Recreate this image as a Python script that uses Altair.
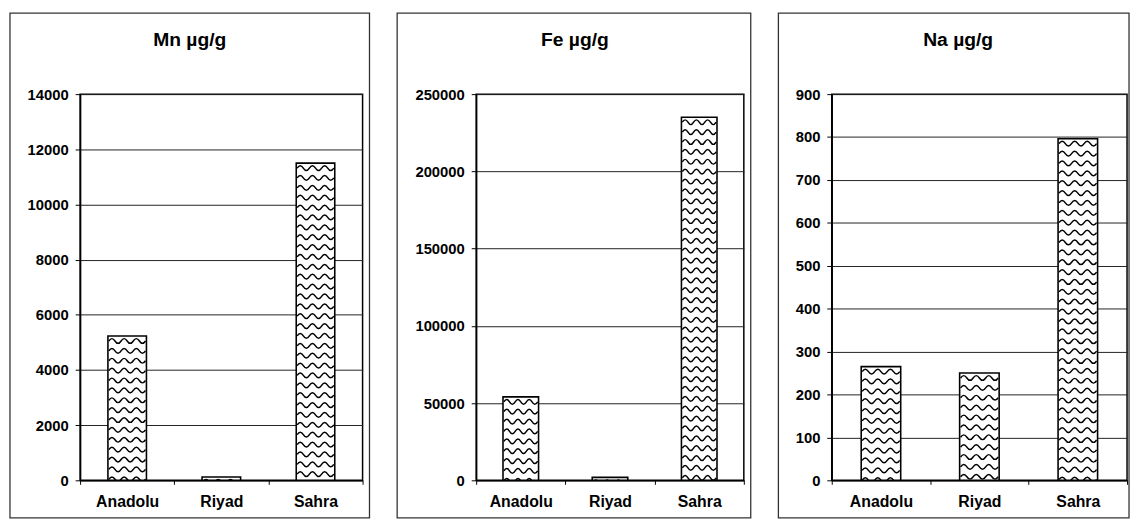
import altair as alt
import pandas as pd

# ---- data ----
sites = ["Anadolu", "Riyad", "Sahra"]
mn_values = [5230, 120, 11500]
fe_values = [54000, 1900, 235000]
na_values = [265, 250, 796]

mn_ticks = [0, 2000, 4000, 6000, 8000, 10000, 12000, 14000]
fe_ticks = [0, 50000, 100000, 150000, 200000, 250000]
na_ticks = [0, 100, 200, 300, 400, 500, 600, 700, 800, 900]

titles = ["Mn µg/g", "Fe µg/g", "Na µg/g"]

# ---- styling ----
H = 391
FONT = "Liberation Sans"


def wave_shape(bar_w, rows=42, row_px=10.0, first_px=5.0, amp_px=2.4, periods=3):
    """Custom symbol path: a column of wavy hatch rows (fill pattern style)."""
    u = bar_w / 2.0
    x0, x1 = -0.95, 0.95
    half = (x1 - x0) / (2 * periods)
    a = amp_px / u
    parts = []
    for r in range(rows):
        y0 = (first_px + r * row_px) / u
        parts.append(f"M{x0:.4f},{y0:.4f}")
        parts.append(f"Q{x0 + half / 2:.4f},{y0 - 2 * a:.4f} {x0 + half:.4f},{y0:.4f}")
        for k in range(2, 2 * periods + 1):
            parts.append(f"T{x0 + k * half:.4f},{y0:.4f}")
    return " ".join(parts)


def panel(title, values, ticks, width, bar_w, left, right, title_x):
    df = pd.DataFrame({"site": sites, "value": values})
    top = ticks[-1]
    x = alt.X(
        "site:N", sort=sites, title=None,
        scale=alt.Scale(paddingInner=0, paddingOuter=0),
        axis=alt.Axis(labelAngle=0, tickBand="extent", grid=False, tickSize=4,
                      labelPadding=10, labelFontSize=16),
    )
    y = alt.Y(
        "value:Q", title=None,
        scale=alt.Scale(domain=[0, top], nice=False, zero=True),
        axis=alt.Axis(values=ticks, format="d", grid=True, tickSize=5,
                      labelPadding=7, labelFontSize=15),
    )
    base = alt.Chart(df).encode(x=x, y=y)
    fill = base.mark_bar(size=bar_w, fill="white", strokeWidth=0)
    waves = base.mark_point(
        shape=wave_shape(bar_w), size=bar_w * bar_w, filled=False,
        stroke="black", strokeWidth=1.5, opacity=1, clip=True,
    )
    outline = base.mark_bar(size=bar_w, fillOpacity=0, stroke="black", strokeWidth=1.6)
    frame = alt.Chart(alt.Data(values=[{}])).mark_rect(
        fillOpacity=0, stroke="#333", strokeWidth=1.3
    ).encode(
        x=alt.value(left), x2=alt.value(width + right),
        y=alt.value(-82), y2=alt.value(H + 38),
    )
    ttl = alt.Chart(alt.Data(values=[{}])).mark_text(
        text=title, font=FONT, fontSize=19.5, fontWeight="bold",
        baseline="middle", align="center", color="black",
    ).encode(x=alt.value(title_x), y=alt.value(-55))
    return alt.layer(fill, waves, outline, frame, ttl).properties(width=width, height=H)


p1 = panel(titles[0], mn_values, mn_ticks, 286, 39, -71, 7, 111)
p2 = panel(titles[1], fe_values, fe_ticks, 271, 36, -80, 7, 100)
p3 = panel(titles[2], na_values, na_ticks, 299, 40, -54, 2, 128)

chart = (
    alt.hconcat(p1, p2, p3, spacing=24)
    .properties(padding=0)
    .configure_view(stroke="black", strokeWidth=1.5)
    .configure_axis(
        labelFont=FONT, labelFontWeight="bold", labelColor="black",
        tickColor="black", domainColor="black", domainWidth=1.5,
        gridColor="#222", gridWidth=1, tickWidth=1,
    )
)

chart.save("out.html", embed_options={"renderer": "svg", "actions": False})
